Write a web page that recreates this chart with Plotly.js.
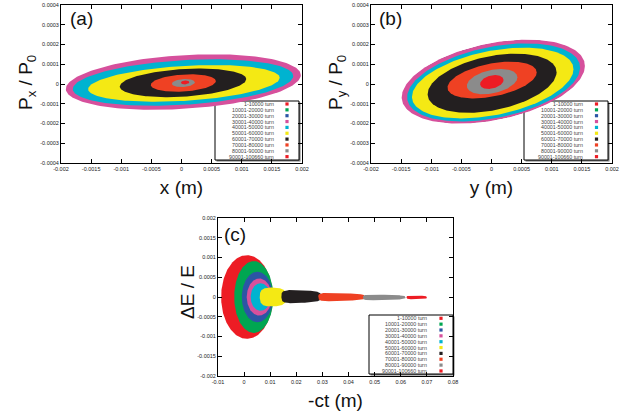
<!DOCTYPE html>
<html>
<head>
<meta charset="utf-8">
<script src="https://cdn.plot.ly/plotly-3.0.1.min.js"></script>
<style>html,body{margin:0;padding:0;background:#fff;}#chart{width:627px;height:420px;}</style>
</head>
<body>
<div id="chart"></div>
<script>
// ---------- data ----------
const bandLabels = ["1-10000 turn","10001-20000 turn","20001-30000 turn","30001-40000 turn","40001-50000 turn",
  "50001-60000 turn","60001-70000 turn","70001-80000 turn","80001-90000 turn","90001-100660 turn"];
const bandColors = ["#ed1c24","#00a651","#2b55a5","#d6509c","#00b3d0","#f4e914","#231f20","#ef4123","#8b8b8b","#ed1c24"];

// panel (a): x - Px/P0 phase space, one filled ellipse per turn band
const aCenterX = [0.00003,0.00003,0.00003,0.00003,0.000025,0.00004,0.000025,0.00003,0.00003,0.00006];
const aCenterY = [0.00001,0.00001,0.00001,0.00001,0.0000075,0.000003,0.000006,0.000005,0.000005,0.000008];
const aSemiX   = [0.0019,0.0019,0.0019,0.00195,0.00183,0.00159,0.00105,0.00054,0.00019,0.00007];
const aSemiY   = [0.00013,0.00013,0.00013,0.000136,0.000113,0.0000885,0.00007,0.000043,0.00002,0.00001];
const aTilt    = [0.018,0.018,0.018,0.018,0.018,0.018,0.018,0.018,0.018,0.018];

// panel (b): y - Py/P0
const bCenterX = [0.00003,0.00003,0.00003,0.00003,0.000035,0.00002,0.00001,0.00001,0.00001,0.000005];
const bCenterY = [0.000012,0.000012,0.000012,0.000012,0.000008,0.000005,0.000004,0.00002,0.000012,0.00001];
const bSemiX   = [0.0015,0.0015,0.0015,0.00152,0.001435,0.00134,0.00107,0.00074,0.00042,0.000195];
const bSemiY   = [0.000194,0.000194,0.000194,0.000197,0.000183,0.000165,0.000139,0.0000847,0.0000602,0.0000335];
const bTilt    = [0.052,0.052,0.052,0.052,0.052,0.052,0.052,0.052,0.052,0.052];

// panel (c): -ct - dE/E
const cCenterX = [0.0011,0.0037,0.0051,0.0058,0.0063,0.0111,0.0219,0.0373,0.05365,0.0661];
const cCenterY = [0,0,0,0,0,0,0.00001,0,-0.00001,-0.00001];
const cSemiX   = [0.0099,0.0075,0.006,0.0048,0.0038,0.0051,0.0076,0.0089,0.00815,0.0039];
const cSemiY   = [0.00106,0.00091,0.00064,0.00047,0.00035,0.00025,0.00018,0.00012,0.00008,0.00005];
const cPower   = [2,2,2,2,2,3,4,4,4,4];
const cTaper   = [0,0,0,0,0,0.1,0.25,0.35,0.35,0.15];

// ticks
const abXTicks = [-0.002,-0.0015,-0.001,-0.0005,0,0.0005,0.001,0.0015,0.002];
const abXTickText = ["-0.002","-0.0015","-0.001","-0.0005","0","0.0005","0.001","0.0015","0.002"];
const abYTicks = [-0.0004,-0.0003,-0.0002,-0.0001,0,0.0001,0.0002,0.0003,0.0004];
const abYTickText = ["-0.0004","-0.0003","-0.0002","-0.0001","0","0.0001","0.0002","0.0003","0.0004"];
const cXTicks = [-0.01,0,0.01,0.02,0.03,0.04,0.05,0.06,0.07,0.08];
const cXTickText = ["-0.01","0","0.01","0.02","0.03","0.04","0.05","0.06","0.07","0.08"];
const cYTicks = [-0.002,-0.0015,-0.001,-0.0005,0,0.0005,0.001,0.0015,0.002];
const cYTickText = ["-0.002","-0.0015","-0.001","-0.0005","0","0.0005","0.001","0.0015","0.002"];

// ---------- drawing ----------
const W = 627, H = 420;
const FONT = "Liberation Sans, Arial, sans-serif";
const px = v => v / W;
const py = v => 1 - v / H;

function outline(cx, cy, A, B, k, p, taper) {
  const n = 200, e = 2 / p, xs = [], ys = [];
  for (let i = 0; i <= n; i++) {
    const t = 2 * Math.PI * i / n, c = Math.cos(t), s = Math.sin(t);
    const dx = A * Math.sign(c) * Math.pow(Math.abs(c), e);
    const f = 1 - taper * (dx / A + 1) / 2;
    const dy = B * f * Math.sign(s) * Math.pow(Math.abs(s), e);
    xs.push(cx + dx); ys.push(cy + dy + k * dx);
  }
  return [xs, ys];
}

const traces = [];
function addPanel(cx, cy, sx, sy, tilt, power, taper, xa, ya) {
  for (let i = 0; i < bandLabels.length; i++) {
    const [xs, ys] = outline(cx[i], cy[i], sx[i], sy[i], tilt ? tilt[i] : 0,
                             power ? power[i] : 2, taper ? taper[i] : 0);
    traces.push({type: "scatter", mode: "lines", x: xs, y: ys, fill: "toself",
      fillcolor: bandColors[i], line: {width: 0, color: bandColors[i]},
      name: bandLabels[i], xaxis: xa, yaxis: ya, hoverinfo: "skip", showlegend: false});
  }
}
addPanel(aCenterX, aCenterY, aSemiX, aSemiY, aTilt, null, null, "x", "y");
addPanel(bCenterX, bCenterY, bSemiX, bSemiY, bTilt, null, null, "x2", "y2");
addPanel(cCenterX, cCenterY, cSemiX, cSemiY, null, cPower, cTaper, "x3", "y3");

function axis(domain, range, vals, text, title, anchor, standoff) {
  const ax = {domain: domain, range: range, anchor: anchor, showline: true, linecolor: "#000", linewidth: 1,
    mirror: "ticks", ticks: "inside", ticklen: 4, tickcolor: "#000", tickwidth: 1,
    showgrid: false, zeroline: false, tickmode: "array", tickvals: vals, ticktext: text,
    tickfont: {family: FONT, size: 5.5, color: "#222"}, automargin: false, fixedrange: true};
  if (title) ax.title = {text: title, font: {family: FONT, size: 19, color: "#111"}, standoff: standoff};
  return ax;
}

const layout = {
  width: W, height: H, autosize: false, paper_bgcolor: "#fff", plot_bgcolor: "#fff",
  margin: {l: 0, r: 0, t: 0, b: 0}, showlegend: false,
  xaxis:  axis([px(61), px(302)], [-0.002, 0.002], abXTicks, abXTickText, "x (m)", "y", 10),
  yaxis:  axis([py(163), py(5)], [-0.0004, 0.0004], abYTicks, abYTickText, null, "x"),
  xaxis2: axis([px(371), px(612)], [-0.002, 0.002], abXTicks, abXTickText, "y (m)", "y2", 10),
  yaxis2: axis([py(163), py(5)], [-0.0004, 0.0004], abYTicks, abYTickText, null, "x2"),
  xaxis3: axis([px(218), px(453)], [-0.01, 0.08], cXTicks, cXTickText, "-ct (m)", "y3", 10),
  yaxis3: axis([py(376), py(218)], [-0.002, 0.002], cYTicks, cYTickText, null, "x3"),
  annotations: [], shapes: []
};

// y-axis titles (rotated) and panel letters
[["P<sub>x</sub> / P<sub>0</sub>", 27, 83], ["P<sub>y</sub> / P<sub>0</sub>", 337, 83], ["ΔE / E", 187, 292]].forEach(([t, x, y]) => {
  layout.annotations.push({text: t, xref: "paper", yref: "paper", x: px(x), y: py(y), textangle: -90,
    xanchor: "center", yanchor: "middle", showarrow: false, font: {family: FONT, size: 19, color: "#111"}});
});
[["(a)", 81, 19], ["(b)", 390, 19], ["(c)", 235, 234]].forEach(([t, x, y]) => {
  layout.annotations.push({text: t, xref: "paper", yref: "paper", x: px(x), y: py(y),
    xanchor: "center", yanchor: "middle", showarrow: false, font: {family: FONT, size: 19, color: "#111"}});
});

// legends (gnuplot style: text right-aligned, swatch at right)
function legend(boxL, boxT, boxR, boxB, textR, swatchX, row0, rowStep) {
  layout.shapes.push({type: "rect", xref: "paper", yref: "paper", layer: "below",
    x0: px(boxL + 1.5), x1: px(boxR + 1.5), y0: py(boxB + 1.5), y1: py(boxT + 1.5),
    line: {width: 0}, fillcolor: "#777"});
  layout.shapes.push({type: "rect", xref: "paper", yref: "paper", layer: "below",
    x0: px(boxL), x1: px(boxR), y0: py(boxB), y1: py(boxT),
    line: {width: 1, color: "#000"}, fillcolor: "#fff"});
  bandLabels.forEach((lab, i) => {
    const yy = row0 + i * rowStep;
    layout.annotations.push({text: lab, xref: "paper", yref: "paper", x: px(textR), y: py(yy),
      xanchor: "right", yanchor: "middle", showarrow: false, borderpad: 0,
      font: {family: FONT, size: 5.3, color: "#444"}});
    layout.shapes.push({type: "rect", xref: "paper", yref: "paper", layer: "above",
      x0: px(swatchX - 1.6), x1: px(swatchX + 1.6), y0: py(yy + 1.6), y1: py(yy - 1.6),
      line: {width: 0}, fillcolor: bandColors[i]});
  });
}
legend(215, 101, 299, 160, 275, 287, 104, 5.85);
legend(524, 101, 608, 160, 584, 596.5, 104, 5.85);
legend(369, 315, 453, 374, 428, 441, 318.3, 5.85);

Plotly.newPlot("chart", traces, layout, {staticPlot: true, displayModeBar: false});
</script>
</body>
</html>
